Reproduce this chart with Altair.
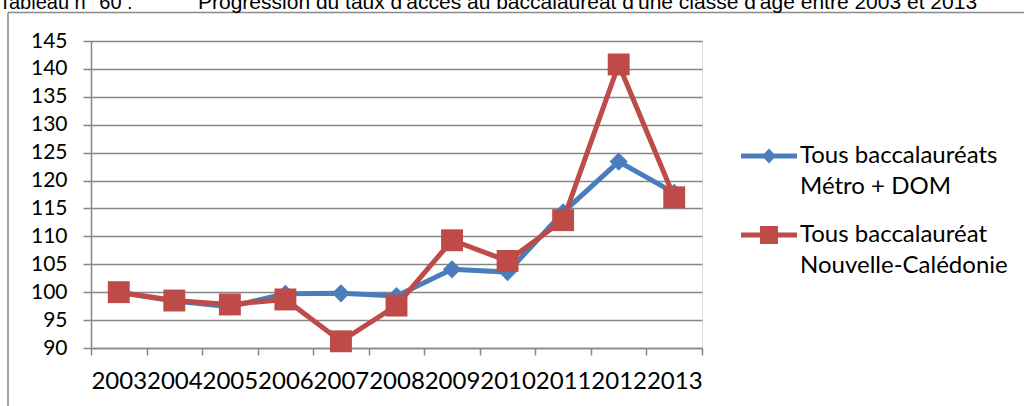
import altair as alt
import pandas as pd

# Access rate index (base 100 in 2003)
years = ["2003", "2004", "2005", "2006", "2007", "2008",
         "2009", "2010", "2011", "2012", "2013"]
metro_dom = [100.0, 98.4, 97.4, 99.7, 99.8, 99.3, 104.1, 103.6, 114.3, 123.4, 117.8]
nouvelle_caledonie = [100.0, 98.5, 97.8, 98.7, 91.2, 97.6, 109.3, 105.6, 112.9, 140.8, 117.0]

series_names = ["Tous baccalauréats\nMétro + DOM", "Tous baccalauréat\nNouvelle-Calédonie"]
series_colors = ["#4A7EBB", "#BE4B48"]
marker_shapes = ["diamond", "square"]
marker_sizes = [330, 480]
# legend glyphs: a line segment with the series marker in the middle
legend_glyphs = [
    "M-1,-0.09H-0.1667L0,-0.27L0.1667,-0.09H1V0.09H0.1667L0,0.27L-0.1667,0.09H-1Z",
    "M-1,-0.09H-0.32V-0.32H0.32V-0.09H1V0.09H0.32V0.32H-0.32V0.09H-1Z",
]
y_ticks = list(range(90, 150, 5))
caption_ref = ["Tableau n° 60 :"]
caption_text = ["Progression du taux d'accès au baccalauréat d'une classe d'âge entre 2003 et 2013"]

df = pd.DataFrame({
    "annee": years * 2,
    "taux": metro_dom + nouvelle_caledonie,
    "serie": [series_names[0]] * len(years) + [series_names[1]] * len(years),
})
one = pd.DataFrame({"ref": caption_ref, "caption": caption_text})

GRID = "#868686"
FONT = "Lato"

x_enc = alt.X(
    "annee:N",
    sort=years,
    scale=alt.Scale(type="band", domain=years, paddingInner=0, paddingOuter=0),
    axis=alt.Axis(
        title=None, labelAngle=0, tickBand="extent", ticks=True, tickSize=7,
        tickColor=GRID, tickWidth=1.5, domainColor=GRID, domainWidth=1.5,
        labelFont=FONT, labelFontSize=24, labelColor="#000000", labelPadding=14,
        grid=False,
    ),
)
y_enc = alt.Y(
    "taux:Q",
    scale=alt.Scale(domain=[90, 145], nice=False, zero=False),
    axis=alt.Axis(
        title=None, values=y_ticks, tickSize=8, tickColor=GRID, tickWidth=1.5,
        domainColor=GRID, domainWidth=1.5, grid=True, gridColor=GRID,
        gridWidth=1.5, labelFont=FONT, labelFontSize=21, labelColor="#000000",
        labelPadding=16,
    ),
)

layers = []
for name, color, shape, size in zip(series_names, series_colors, marker_shapes, marker_sizes):
    base = alt.Chart(df).transform_filter(alt.datum.serie == name)
    layers.append(base.mark_line(color=color, strokeWidth=5).encode(x=x_enc, y=y_enc))
    layers.append(
        base.mark_point(shape=shape, size=size, filled=True, color=color, opacity=1)
        .encode(x=x_enc, y=y_enc)
    )

# two-line legend labels, glyph level with the first line
legend_props = dict(
    title=None, orient="none", legendX=650, legendY=87, padding=0,
    symbolSize=3136, symbolStrokeWidth=0, labelFont=FONT, labelFontSize=24,
    labelColor="#000000", labelLimit=400, labelOffset=3, rowPadding=8,
    labelExpr="split(datum.label, '\\n')",
)
legend_layer = (
    alt.Chart(df)
    .transform_filter("false")
    .mark_point(filled=True, opacity=1)
    .encode(
        color=alt.Color("serie:N", scale=alt.Scale(domain=series_names, range=series_colors),
                        legend=alt.Legend(**legend_props)),
        shape=alt.Shape("serie:N", scale=alt.Scale(domain=series_names, range=legend_glyphs),
                        legend=alt.Legend(**legend_props)),
    )
)

# outer frame of the chart area
frame_top = alt.Chart(one).mark_rule(color="#898989", strokeWidth=1.5).encode(
    x=alt.value(-83), x2=alt.value(1000), y=alt.value(-28.5)
)
frame_left = alt.Chart(one).mark_rule(color="#898989", strokeWidth=1.5).encode(
    x=alt.value(-83), y=alt.value(-28.5), y2=alt.value(400)
)

caption_font = "Liberation Sans"
caption_a = alt.Chart(one).mark_text(
    font=caption_font, fontSize=20, align="left", baseline="alphabetic"
).encode(text="ref:N", x=alt.value(-92), y=alt.value(-32))
caption_b = alt.Chart(one).mark_text(
    font=caption_font, fontSize=21, align="left", baseline="alphabetic"
).encode(text="caption:N", x=alt.value(107), y=alt.value(-32))

chart = (
    alt.layer(frame_top, frame_left, caption_a, caption_b, *layers, legend_layer)
    .properties(
        width=611, height=307,
        autosize=alt.AutoSizeParams(type="none"),
        padding={"left": 91, "top": 41, "right": 322, "bottom": 58},
    )
    .configure_view(stroke=None)
    .configure(background="#ffffff", style={"guide-label": {"lineHeight": 31}})
)

chart.save("out.html", embed_options={"renderer": "svg", "actions": False})
